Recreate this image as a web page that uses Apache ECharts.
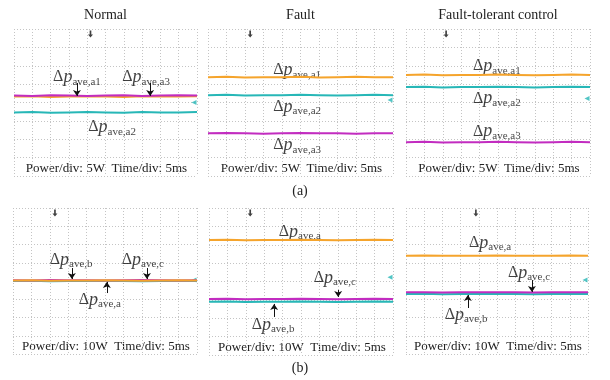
<!DOCTYPE html>
<html>
<head>
<meta charset="utf-8">
<script src="https://cdn.jsdelivr.net/npm/echarts@6/dist/echarts.min.js"></script>
<style>
html,body{margin:0;padding:0;background:#fff;}
#c{width:610px;height:380px;}
</style>
</head>
<body>
<div id="c"></div>
<script>
// ---------- data ----------
const timeMs = [0,5,10,15,20,25,30,35,40,45,50];
const columnTitles = ['Normal','Fault','Fault-tolerant control'];
const rowTags = ['(a)','(b)'];
const scaleTexts = ['Power/div: 5W  Time/div: 5ms','Power/div: 10W  Time/div: 5ms'];
const wattsPerDiv = [5, 10];

// (a) 5 W/div — orange, cyan, magenta traces
const p1Orange  = [1.6,1.7,1.5,1.6,1.7,1.6,1.5,1.7,1.6,1.6,1.7];
const p1Cyan    = [-2.7,-2.6,-2.8,-2.7,-2.6,-2.7,-2.8,-2.6,-2.7,-2.7,-2.6];
const p1Magenta = [1.9,1.8,2.0,1.9,1.8,1.9,2.0,1.8,1.9,2.0,1.9];
const p2Orange  = [6.9,7.0,6.8,6.9,6.9,7.0,6.8,6.9,7.0,6.9,6.9];
const p2Cyan    = [2.0,2.1,1.9,2.0,2.0,2.1,2.0,1.9,2.0,2.1,2.0];
const p2Magenta = [-8.4,-8.3,-8.4,-8.5,-8.4,-8.3,-8.4,-8.4,-8.5,-8.4,-8.4];
const p3Orange  = [7.5,7.6,7.4,7.5,7.5,7.6,7.5,7.4,7.5,7.6,7.5];
const p3Cyan    = [4.2,4.3,4.1,4.2,4.2,4.3,4.2,4.1,4.2,4.3,4.2];
const p3Magenta = [-10.8,-10.7,-10.9,-10.8,-10.8,-10.7,-10.8,-10.9,-10.8,-10.7,-10.8];
// (b) 10 W/div
const p4Orange  = [0.3,0.4,0.2,0.3,0.3,0.4,0.3,0.2,0.3,0.4,0.3];
const p4Cyan    = [0.0,0.1,-0.1,0.0,0.0,0.1,0.0,-0.1,0.0,0.1,0.0];
const p4Magenta = [0.4,0.3,0.5,0.4,0.4,0.3,0.4,0.5,0.4,0.3,0.4];
const p5Orange  = [22.6,22.7,22.5,22.6,22.6,22.7,22.6,22.5,22.6,22.7,22.6];
const p5Cyan    = [-11.0,-10.9,-11.1,-11.0,-11.0,-10.9,-11.0,-11.1,-11.0,-10.9,-11.0];
const p5Magenta = [-9.5,-9.4,-9.6,-9.5,-9.5,-9.4,-9.5,-9.6,-9.5,-9.4,-9.5];
const p6Orange  = [13.9,14.0,13.8,13.9,13.9,14.0,13.9,13.8,13.9,14.0,13.9];
const p6Cyan    = [-7.1,-7.0,-7.2,-7.1,-7.1,-7.0,-7.1,-7.2,-7.1,-7.0,-7.1];
const p6Magenta = [-6.2,-6.1,-6.3,-6.2,-6.2,-6.1,-6.2,-6.3,-6.2,-6.1,-6.2];

// annotations: [time ms, watts, subscript]
const labelsP1 = [[17.2,6.9,'ave,a1'],[36.1,6.9,'ave,a3'],[26.8,-6.7,'ave,a2']];
const labelsP2 = [[24.1,8.8,'ave,a1'],[24.1,-1.2,'ave,a2'],[24.1,-11.6,'ave,a3']];
const labelsP3 = [[24.7,9.9,'ave,a1'],[24.7,1.1,'ave,a2'],[24.7,-7.9,'ave,a3']];
const labelsP4 = [[15.8,11.5,'ave,b'],[35.3,11.5,'ave,c'],[23.6,-10.4,'ave,a']];
const labelsP5 = [[24.7,26.9,'ave,a'],[34.2,1.9,'ave,c'],[17.4,-23.6,'ave,b']];
const labelsP6 = [[23.1,20.8,'ave,a'],[33.8,4.4,'ave,c'],[16.5,-18.6,'ave,b']];
// arrows: [time ms, from watts, to watts]
const arrowsP1 = [[17.2,5.3,1.8],[37.2,5.3,1.8]];
const arrowsP2 = [];
const arrowsP3 = [];
const arrowsP4 = [[16.0,7.1,1.1],[36.4,7.1,1.1],[25.5,-6.6,-0.5]];
const arrowsP5 = [[35.1,-4.6,-8.4],[17.7,-19.3,-12.2]];
const arrowsP6 = [[34.6,0.5,-6.0],[17.0,-14.8,-7.7]];
// trigger position (ms) and channel ground marker (W)
const triggerMs = [20.9, 11.4, 10.9, 11.4, 11.2, 19.2];
const groundW   = [0, 0.7, 1.1, 0.5, 2.3, 0.5];

// ---------- layout / style ----------
const FONT = "'Liberation Serif','Times New Roman',serif";
const ORANGE = '#f5a42c', CYAN = '#27b7b7', MAGENTA = '#c22cc0';
const gridRects = [
  {left:14, top:29, width:183, height:147},
  {left:208, top:29, width:185, height:147},
  {left:406, top:29, width:184, height:147},
  {left:13, top:208, width:184, height:146},
  {left:209, top:208, width:184, height:147},
  {left:406, top:208, width:182, height:146}
];
const traces = [
  [p1Cyan,p1Orange,p1Magenta],[p2Cyan,p2Orange,p2Magenta],[p3Cyan,p3Orange,p3Magenta],
  [p4Cyan,p4Magenta,p4Orange],[p5Cyan,p5Orange,p5Magenta],[p6Cyan,p6Orange,p6Magenta]
];
const traceColors = [
  [CYAN,ORANGE,MAGENTA],[CYAN,ORANGE,MAGENTA],[CYAN,ORANGE,MAGENTA],
  [CYAN,MAGENTA,ORANGE],[CYAN,ORANGE,MAGENTA],[CYAN,ORANGE,MAGENTA]
];
const labelSets = [labelsP1,labelsP2,labelsP3,labelsP4,labelsP5,labelsP6];
const arrowSets = [arrowsP1,arrowsP2,arrowsP3,arrowsP4,arrowsP5,arrowsP6];

const grid = [], xAxis = [], yAxis = [], series = [];
const dotted = {show:true, lineStyle:{color:'#c4c4c4', type:[1,2], width:1}};
gridRects.forEach((r, i) => {
  const row = i < 3 ? 0 : 1;
  const wpd = wattsPerDiv[row];
  grid.push(Object.assign({containLabel:false}, r));
  xAxis.push({gridIndex:i, type:'value', min:0, max:50, interval:5,
    axisLine:{show:false}, axisTick:{show:false}, axisLabel:{show:false}, splitLine:dotted});
  yAxis.push({gridIndex:i, type:'value', min:-4*wpd, max:4*wpd, interval:wpd,
    axisLine:{show:false}, axisTick:{show:false}, axisLabel:{show:false}, splitLine:dotted});
  traces[i].forEach((arr, k) => {
    series.push({type:'line', xAxisIndex:i, yAxisIndex:i, showSymbol:false, silent:true,
      data: timeMs.map((t, j) => [t, arr[j]]),
      lineStyle:{color:traceColors[i][k], width:2}, animation:false});
  });
  // annotation labels
  series.push({type:'scatter', xAxisIndex:i, yAxisIndex:i, silent:true, animation:false,
    symbolSize:1, itemStyle:{color:'rgba(0,0,0,0)'},
    data: labelSets[i].map(l => ({value:[l[0], l[1]], sub:l[2]})),
    label:{show:true, position:'inside',
      formatter: p => '{d|Δ}{p|p}{s|' + p.data.sub + '}',
      rich:{
        d:{fontFamily:FONT, fontSize:16, color:'#111'},
        p:{fontFamily:FONT, fontSize:18, fontStyle:'italic', color:'#111'},
        s:{fontFamily:FONT, fontSize:11, color:'#111', padding:[9,0,0,0]}
      }}
  });
  // arrows
  series.push({type:'line', xAxisIndex:i, yAxisIndex:i, data:[], silent:true, animation:false,
    markLine:{silent:true, animation:false, symbol:['none','arrow'], symbolSize:6,
      label:{show:false}, lineStyle:{color:'#111', width:1, type:'solid'},
      data: arrowSets[i].map(a => [{coord:[a[0], a[1]]}, {coord:[a[0], a[2]]}])}
  });
  // trigger marker
  series.push({type:'scatter', xAxisIndex:i, yAxisIndex:i, silent:true, animation:false,
    data:[[triggerMs[i], 4*wpd]],
    symbol:'path://M2,0 L4,0 L4,5 L6,5 L3,9 L0,5 L2,5 Z', symbolSize:[5,7], symbolOffset:[0,5],
    itemStyle:{color:'#111'}});
  // ground marker
  series.push({type:'scatter', xAxisIndex:i, yAxisIndex:i, silent:true, animation:false,
    data:[[50, groundW[i]]], symbol:'triangle', symbolRotate:90, symbolSize:[5,5], symbolOffset:[-3,0],
    itemStyle:{color:CYAN}});
});

const graphic = [];
columnTitles.forEach((t, c) => {
  const r = gridRects[c];
  graphic.push({type:'text', x:r.left + r.width/2, y:15,
    style:{text:t, fontFamily:FONT, fontSize:14, fill:'#222', align:'center', verticalAlign:'middle'}});
});
rowTags.forEach((t, k) => {
  graphic.push({type:'text', x:300, y: k === 0 ? 191 : 368,
    style:{text:t, fontFamily:FONT, fontSize:14, fill:'#222', align:'center', verticalAlign:'middle'}});
});
gridRects.forEach((r, i) => {
  graphic.push({type:'text', x:r.left + r.width/2 + 1, y:r.top + r.height - 7,
    style:{text:scaleTexts[i < 3 ? 0 : 1], fontFamily:FONT, fontSize:13, fill:'#222', align:'center', verticalAlign:'middle'}});
});

const chart = echarts.init(document.getElementById('c'), null, {renderer:'canvas'});
chart.setOption({animation:false, backgroundColor:'#fff', grid, xAxis, yAxis, series, graphic});
</script>
</body>
</html>
